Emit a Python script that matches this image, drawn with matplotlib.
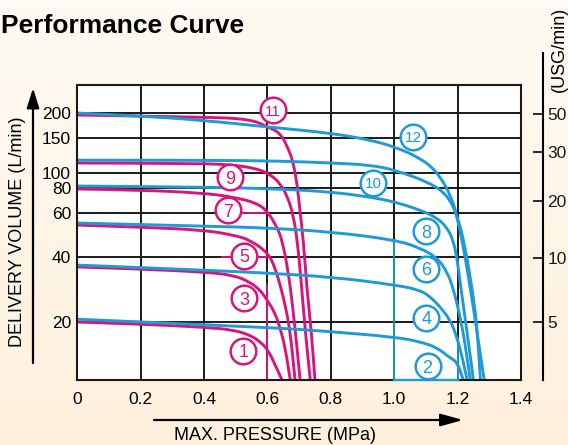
import numpy as np
import matplotlib
matplotlib.use('Agg')
import matplotlib.pyplot as plt
from matplotlib.path import Path
from matplotlib.patches import PathPatch
from matplotlib import font_manager

plt.rcParams['font.family'] = ['Liberation Sans', 'DejaVu Sans']

MAG = '#D8157C'
BLU = '#1F9AD6'

# ---------------- data (pressure MPa, delivery L/min) ----------------
p1 = [0, 0.2, 0.4, 0.492, 0.545, 0.577, 0.602, 0.624, 0.646]
q1 = [20.0, 19.5, 18.8, 18.2, 17.1, 15.8, 14.3, 12.0, 10]

p2 = [0, 0.6, 0.804, 1.003, 1.082, 1.136, 1.171, 1.199, 1.218]
q2 = [20.6, 18.8, 17.8, 16.7, 15.8, 14.7, 13.2, 12.4, 10]

p3 = [0, 0.198, 0.397, 0.492, 0.545, 0.577, 0.599, 0.624, 0.640, 0.656, 0.672]
q3 = [36.0, 35.2, 34.1, 33.0, 30.6, 28.1, 25.3, 22.0, 18.6, 14.7, 10]

p4 = [0, 0.397, 0.599, 0.804, 1.003, 1.082, 1.114, 1.145, 1.177, 1.199, 1.218, 1.230]
q4 = [36.7, 34.8, 33.7, 32.3, 29.7, 28.1, 26.1, 23.5, 20.4, 16.5, 12.4, 10]

p5 = [0, 0.198, 0.397, 0.492, 0.545, 0.602, 0.624, 0.640, 0.656, 0.672, 0.687]
q5 = [53.7, 52.7, 51.3, 49.0, 46.8, 41.5, 35.6, 29.7, 24.0, 17.8, 10]

p6 = [0, 0.397, 0.599, 0.804, 1.003, 1.082, 1.136, 1.167, 1.186, 1.209, 1.224, 1.240]
q6 = [54.7, 53.2, 52.3, 50.4, 46.8, 43.5, 39.6, 34.1, 28.7, 20.9, 15.2, 10]

p7 = [0, 0.198, 0.397, 0.492, 0.567, 0.602, 0.631, 0.646, 0.665, 0.681, 0.694, 0.703]
q7 = [79.1, 78.2, 75.5, 72.1, 67.3, 60.7, 52.3, 46.8, 34.8, 22.7, 14.3, 10]

p8 = [0, 0.397, 0.640, 0.804, 0.924, 1.003, 1.082, 1.136, 1.167, 1.186, 1.199, 1.209, 1.231, 1.250]
q8 = [82.4, 81.2, 79.1, 76.4, 72.1, 68.1, 62.1, 57.3, 52.3, 46.8, 38.7, 29.7, 17.1, 10]

p9 = [0, 0.388, 0.492, 0.556, 0.602, 0.640, 0.665, 0.681, 0.694, 0.706, 0.719, 0.735]
q9 = [112.3, 111.9, 109.7, 106.0, 100.0, 86.2, 71.3, 58.9, 46.8, 31.3, 18.2, 10]

p10 = [0, 0.397, 0.640, 0.804, 0.924, 1.003, 1.114, 1.167, 1.199, 1.224, 1.250, 1.262, 1.272]
q10 = [116.0, 116.0, 114.9, 112.3, 109.7, 103.5, 86.2, 73.8, 58.9, 43.9, 26.1, 18.2, 10]

p11 = [0, 0.397, 0.545, 0.602, 0.640, 0.665, 0.681, 0.694, 0.703, 0.713, 0.725, 0.738, 0.750]
q11 = [195.4, 191.0, 186.6, 170.2, 158.9, 133.6, 113.6, 83.7, 60.7, 46.8, 28.1, 18.2, 10]

p12 = [0, 0.199, 0.388, 0.602, 0.798, 0.924, 1.003, 1.082, 1.136, 1.183, 1.202, 1.224, 1.246, 1.265, 1.284]
q12 = [200, 193.2, 184.5, 170.2, 158.9, 146.6, 135.1, 119.0, 101.2, 71.3, 55.2, 40.0, 25.3, 16.1, 10]

mag_series = [(p1, q1), (p3, q3), (p5, q5), (p7, q7), (p9, q9), (p11, q11)]
blu_series = [(p2, q2), (p4, q4), (p6, q6), (p8, q8), (p10, q10), (p12, q12)]

# curve number labels (pressure, L/min)
mag_labels = ['1', '3', '5', '7', '9', '11']
mag_label_x = [0.524, 0.527, 0.527, 0.476, 0.483, 0.618]
mag_label_y = [14.15, 25.8, 40.4, 62.0, 94.2, 206.5]
blu_labels = ['2', '4', '6', '8', '10', '12']
blu_label_x = [1.105, 1.101, 1.101, 1.101, 0.934, 1.060]
blu_label_y = [11.8, 20.9, 35.2, 50.8, 86.2, 151.8]

x_ticks = [0, 0.2, 0.4, 0.6, 0.8, 1.0, 1.2, 1.4]
x_labels = ['0', '0.2', '0.4', '0.6', '0.8', '1.0', '1.2', '1.4']
y_ticks = [20, 40, 60, 80, 100, 150, 200]
y_labels = ['20', '40', '60', '80', '100', '150', '200']
usg_ticks = [5, 10, 20, 30, 50]
usg_labels = ['5', '10', '20', '30', '50']

# chart's (non-uniform log-like) vertical scales: value anchors -> position
l_anchor_vals = [10, 20, 40, 60, 80, 100, 150, 200, 270]
l_anchor_pos = [0, 58, 123, 167, 192, 207, 242, 267, 295]
u_anchor_vals = [5, 10, 20, 30, 50]
u_anchor_pos = [58, 122, 179, 228, 266]


def make_scale(vals, pos):
    lv = np.log10(np.asarray(vals, float))
    ps = np.asarray(pos, float)
    s0 = (ps[1] - ps[0]) / (lv[1] - lv[0])
    s1 = (ps[-1] - ps[-2]) / (lv[-1] - lv[-2])

    def fwd(v):
        v = np.asarray(v, float)
        lx = np.log10(np.clip(v, 1e-9, None))
        out = np.interp(lx, lv, ps)
        out = np.where(lx < lv[0], ps[0] + (lx - lv[0]) * s0, out)
        out = np.where(lx > lv[-1], ps[-1] + (lx - lv[-1]) * s1, out)
        return out

    def inv(p):
        p = np.asarray(p, float)
        out = np.interp(p, ps, lv)
        out = np.where(p < ps[0], lv[0] + (p - ps[0]) / s0, out)
        out = np.where(p > ps[-1], lv[-1] + (p - ps[-1]) / s1, out)
        return 10 ** out
    return fwd, inv


fwd_l, inv_l = make_scale(l_anchor_vals, l_anchor_pos)
fwd_u, inv_u = make_scale(u_anchor_vals, u_anchor_pos)

installed = {f.name for f in font_manager.fontManager.ttflist}
NARROW = ['Liberation Sans Narrow'] if 'Liberation Sans Narrow' in installed else []

W, H = 568, 445
fig = plt.figure(figsize=(W / 100, H / 100), dpi=100)

# background gradient
bg = fig.add_axes([0, 0, 1, 1], zorder=-10)
g = np.linspace(0, 1, 256)[:, None, None]
top = np.array([254, 251, 244]) / 255
bot = np.array([255, 240, 220]) / 255
img = top[None, None, :] * (1 - g) + bot[None, None, :] * g
bg.imshow(img, aspect='auto', extent=[0, 1, 0, 1])
bg.axis('off')

ax = fig.add_axes([77.3 / W, 65 / H, (521 - 77.3) / W, 295 / H])
ax.set_facecolor('white')
ax.set_yscale('function', functions=(fwd_l, inv_l))
ax.set_xlim(0, 1.4)
ax.set_ylim(10, 270)
ax.set_xticks(x_ticks)
ax.set_xticklabels(x_labels)
ax.set_yticks(y_ticks)
ax.set_yticklabels(y_labels)
ax.minorticks_off()
ax.tick_params(axis='x', length=0, pad=9, labelsize=12.5)
ax.tick_params(axis='y', length=0, pad=4.5, labelsize=12.5)
ax.grid(True, color='#1a1a1a', lw=1.4)
ax.set_axisbelow(True)
for s in ax.spines.values():
    s.set_linewidth(1.5)
    s.set_color('#1a1a1a')

# thin marker lines
ax.plot([0.6, 0.6], [29.7, 10], color=MAG, lw=1.3, zorder=1.5)
ax.plot([0.455, 0.6], [40, 40], color=MAG, lw=1.3, zorder=1.5)
ax.plot([0.49, 0.6], [60, 60], color=MAG, lw=1.3, zorder=1.5)
ax.plot([1.0, 1.0], [46.8, 10], color=BLU, lw=1.3, zorder=1.5)
ax.plot([1.2, 1.2], [16.5, 10], color=BLU, lw=1.3, zorder=1.5)
ax.plot([1.0, 1.2], [10, 10], color=BLU, lw=1.6, zorder=4, clip_on=False)


def smooth_curve(p, q, col, z):
    """Draw the read points as a smooth quadratic-Bezier path (corner rounding only)."""
    xs = np.asarray(p, float)
    ys = fwd_l(np.asarray(q, float))  # midpoints taken in scale space
    verts = [(xs[0], q[0])]
    codes = [Path.MOVETO]
    for i in range(1, len(xs) - 1):
        mx = 0.5 * (xs[i] + xs[i + 1])
        my = float(inv_l(0.5 * (ys[i] + ys[i + 1])))
        verts += [(xs[i], q[i]), (mx, my)]
        codes += [Path.CURVE3, Path.CURVE3]
    verts.append((xs[-1], q[-1]))
    codes.append(Path.LINETO)
    patch = PathPatch(Path(verts, codes), facecolor='none', edgecolor=col, lw=2.1,
                      capstyle='butt', joinstyle='round', zorder=z)
    ax.add_patch(patch)


for p, q in mag_series:
    smooth_curve(p, q, MAG, 2)
for p, q in blu_series:
    smooth_curve(p, q, BLU, 2.2)


def circ_labels(xs, ys, labs, col):
    ax.scatter(xs, ys, s=340, facecolor='white', edgecolor=col, linewidth=1.8, zorder=5, clip_on=False)
    for x, y, t in zip(xs, ys, labs):
        if len(t) == 1:
            ax.text(x, y, t, color=col, fontsize=13, ha='center', va='center_baseline', zorder=6)
        else:
            ax.text(x, y, t, color=col, fontsize=12.5 if NARROW else 11,
                    family=NARROW + ['Liberation Sans', 'DejaVu Sans'],
                    ha='center', va='center_baseline', zorder=6)


circ_labels(mag_label_x, mag_label_y, mag_labels, MAG)
circ_labels(blu_label_x, blu_label_y, blu_labels, BLU)

# right axis (USG/min)
ax2 = ax.twinx()
ax2.set_yscale('function', functions=(fwd_u, inv_u))
ylo = float(inv_u(0))
ax2.set_ylim(ylo, float(inv_u(295)))
ax2.set_yticks(usg_ticks)
ax2.set_yticklabels(usg_labels)
ax2.minorticks_off()
ax2.tick_params(axis='y', direction='in', length=7.2, width=1.3, pad=3, labelsize=12.5, colors='#1a1a1a')
for k in ['top', 'left', 'bottom']:
    ax2.spines[k].set_visible(False)
ax2.spines['right'].set_position(('outward', 22 * 0.72))
ax2.spines['right'].set_bounds(ylo, float(inv_u(327)))
ax2.spines['right'].set_linewidth(1.5)

# texts
fig.text(1 / W, 1 - 33 / H, 'Performance Curve', fontsize=19, fontweight='bold',
         ha='left', va='baseline')
fig.text(17.5 / W, 1 - 231.5 / H, 'DELIVERY VOLUME (L/min)', fontsize=13, rotation=90,
         ha='center', va='center')
fig.text(559 / W, 1 - 49 / H, '(USG/min)', fontsize=13, rotation=90, ha='center', va='center')
fig.text(275 / W, 1 - 436 / H, 'MAX. PRESSURE (MPa)', fontsize=13, ha='center', va='center')

# arrows
ax.annotate('', xy=(33, H - 88), xytext=(33, H - 363), xycoords='figure pixels',
            textcoords='figure pixels',
            arrowprops=dict(arrowstyle='-|>,head_length=0.8,head_width=0.25', lw=1.6,
                            color='black', mutation_scale=15, shrinkA=0, shrinkB=0))
ax.annotate('', xy=(463, H - 420), xytext=(154, H - 420), xycoords='figure pixels',
            textcoords='figure pixels',
            arrowprops=dict(arrowstyle='-|>,head_length=0.9,head_width=0.25', lw=1.6,
                            color='black', mutation_scale=15, shrinkA=0, shrinkB=0))

fig.savefig('out.png', dpi=100)
